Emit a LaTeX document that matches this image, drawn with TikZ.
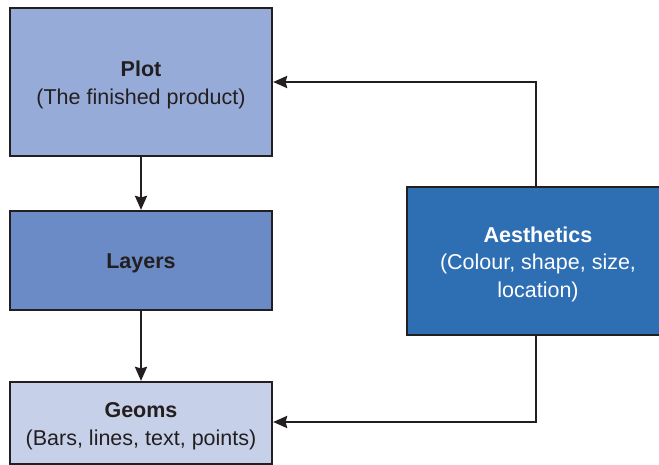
\documentclass[tikz,border=0pt]{standalone}
\usepackage{fontspec}
\setmainfont{Liberation Sans}
\usetikzlibrary{arrows.meta}
\definecolor{plotc}{HTML}{97ABD8}
\definecolor{layc}{HTML}{6A8BC6}
\definecolor{geomc}{HTML}{C6D0E8}
\definecolor{aesc}{HTML}{2E6FB4}
\definecolor{edge}{HTML}{231F20}
\tikzset{
  box/.style={draw=edge, line width=2.2pt, rectangle, inner sep=0pt},
  txt/.style={align=center, inner sep=0pt, yshift=-3pt,
    font=\fontsize{21.5}{27.5}\selectfont, text=#1},
  txt/.default=edge,
  conn/.style={draw=edge, line width=2.4pt, -{Stealth[length=14pt,width=12pt,inset=1.5pt]}},
}
\begin{document}
\begin{tikzpicture}[x=1pt,y=-1pt]
\useasboundingbox (0,0) rectangle (659,465);
\begin{scope}
\clip (0,0) rectangle (659,465);
\node[box, fill=plotc, minimum width=262pt, minimum height=148pt,
  label={[txt]center:{\textbf{Plot}\\(The finished product)}}] (plot) at (141,82) {};
\node[box, fill=layc, minimum width=262pt, minimum height=99pt,
  label={[txt]center:{\textbf{Layers}}}] (layers) at (141,260.5) {};
\node[box, fill=geomc, minimum width=262pt, minimum height=82pt,
  label={[txt]center:{\textbf{Geoms}\\(Bars, lines, text, points)}}] (geoms) at (141,423) {};
\node[box, fill=aesc, minimum width=262pt, minimum height=148pt,
  label={[txt=white]center:{\textbf{Aesthetics}\\(Colour, shape, size,\\location)}}] (aes) at (538,261) {};
\end{scope}
\coordinate (c1) at (536,82);
\coordinate (c2) at (536,422);
\draw[conn] (plot.south) -- (layers.north);
\draw[conn] (layers.south) -- (geoms.north);
\draw[conn] (aes.north -| c1) -- (c1) -- (plot.east);
\draw[conn] (aes.south -| c2) -- (c2) -- (geoms.east |- c2);
\end{tikzpicture}
\end{document}
